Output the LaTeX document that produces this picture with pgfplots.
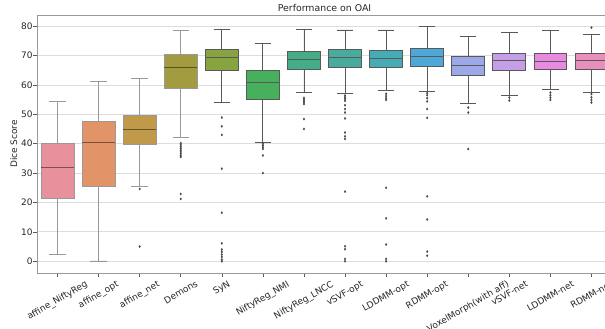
\documentclass[border=0pt]{standalone}
\usepackage{fontspec}
\setmainfont{DejaVu Sans}
\usepackage{graphicx}
\usepackage{pgfplots}
\pgfplotsset{compat=1.18}
\usepgfplotslibrary{statistics}
\definecolor{c0}{HTML}{E8919C}
\definecolor{c1}{HTML}{E29468}
\definecolor{c2}{HTML}{C09A4A}
\definecolor{c3}{HTML}{A29B40}
\definecolor{c4}{HTML}{88A440}
\definecolor{c5}{HTML}{46B05C}
\definecolor{c6}{HTML}{44AD88}
\definecolor{c7}{HTML}{48AB9E}
\definecolor{c8}{HTML}{45ABB5}
\definecolor{c9}{HTML}{4EA9D8}
\definecolor{c10}{HTML}{9CA8E8}
\definecolor{c11}{HTML}{C49FE6}
\definecolor{c12}{HTML}{E88AE0}
\definecolor{c13}{HTML}{E88FBB}
\definecolor{lgt}{HTML}{999999}
\definecolor{drk}{HTML}{595959}
\definecolor{gridc}{HTML}{DDDDDD}
\definecolor{txt}{HTML}{262626}
\pgfplotsset{
  lightbox/.style={draw=lgt, line width=0.9pt, boxplot/every median/.style={draw=black, draw opacity=0.45}},
  darkbox/.style={draw=drk, line width=0.9pt},
}
\begin{document}
\begin{tikzpicture}
\clip (-37bp,-56bp) rectangle (568bp,273bp);
\begin{axis}[
  at={(0,0)}, anchor=south west,
  width=575bp, height=258bp, scale only axis,
  xmin=-0.5, xmax=13.5, ymin=-4, ymax=83.8,
  xtick={0,...,13},
  xticklabels={\rotatebox{30}{affine\_NiftyReg},\rotatebox{30}{affine\_opt},\rotatebox{30}{affine\_net},\rotatebox{30}{Demons},\rotatebox{30}{SyN},\rotatebox{30}{NiftyReg\_NMI},\rotatebox{30}{NiftyReg\_LNCC},\rotatebox{30}{vSVF-opt},\rotatebox{30}{LDDMM-opt},\rotatebox{30}{RDMM-opt},\rotatebox{30}{VoxelMorph(with aff)},\rotatebox{30}{vSVF-net},\rotatebox{30}{LDDMM-net},\rotatebox{30}{RDMM-net}},
  xticklabel style={anchor=north, yshift=0bp, font=\fontsize{9}{10}\selectfont, text=txt},
  ytick={0,10,...,80},
  yticklabel style={font=\fontsize{9}{10}\selectfont, text=txt, xshift=2.5bp},
  /pgf/number format/assume math mode=true,
  tick align=outside, tick pos=left,
  major tick length=3.5bp,
  tick style={color=drk, line width=0.6pt},
  ymajorgrids, grid style={color=gridc, line width=0.8pt},
  axis line style={color=gray!80, line width=0.8pt},
  title={Performance on OAI},
  title style={font=\fontsize{9.4}{10}\selectfont, text=txt, yshift=-6bp},
  ylabel={Dice Score},
  ylabel style={font=\fontsize{9}{10}\selectfont, text=txt, yshift=-3bp},
  boxplot/draw direction=y,
  boxplot/box extend=0.8,
  boxplot/whisker extend=0.4,
]
\addplot[boxplot prepared={draw position=0, lower whisker=2.3, lower quartile=21.4, median=31.8, upper quartile=40.0, upper whisker=54.5}, fill=c0, lightbox] coordinates {};
\addplot[boxplot prepared={draw position=1, lower whisker=0.1, lower quartile=25.6, median=40.4, upper quartile=47.7, upper whisker=61.3}, fill=c1, lightbox] coordinates {};
\addplot[boxplot prepared={draw position=2, lower whisker=25.5, lower quartile=39.9, median=44.8, upper quartile=49.5, upper whisker=62.2}, fill=c2, lightbox] coordinates {};
\addplot[boxplot prepared={draw position=3, lower whisker=42.2, lower quartile=58.8, median=66.0, upper quartile=70.3, upper whisker=78.6}, fill=c3, lightbox] coordinates {};
\addplot[boxplot prepared={draw position=4, lower whisker=54.1, lower quartile=65.0, median=69.4, upper quartile=72.1, upper whisker=79.0}, fill=c4, darkbox] coordinates {};
\addplot[boxplot prepared={draw position=5, lower whisker=40.5, lower quartile=55.2, median=60.9, upper quartile=64.9, upper whisker=74.1}, fill=c5, darkbox] coordinates {};
\addplot[boxplot prepared={draw position=6, lower whisker=57.5, lower quartile=65.3, median=68.7, upper quartile=71.3, upper whisker=79.0}, fill=c6, darkbox] coordinates {};
\addplot[boxplot prepared={draw position=7, lower whisker=57.2, lower quartile=65.9, median=69.2, upper quartile=72.1, upper whisker=78.7}, fill=c7, darkbox] coordinates {};
\addplot[boxplot prepared={draw position=8, lower whisker=58.2, lower quartile=65.9, median=69.1, upper quartile=71.8, upper whisker=78.7}, fill=c8, darkbox] coordinates {};
\addplot[boxplot prepared={draw position=9, lower whisker=57.9, lower quartile=66.4, median=69.6, upper quartile=72.3, upper whisker=79.8}, fill=c9, darkbox] coordinates {};
\addplot[boxplot prepared={draw position=10, lower whisker=53.8, lower quartile=63.1, median=66.7, upper quartile=69.6, upper whisker=76.6}, fill=c10, darkbox] coordinates {};
\addplot[boxplot prepared={draw position=11, lower whisker=56.4, lower quartile=65.0, median=68.4, upper quartile=70.8, upper whisker=77.9}, fill=c11, darkbox] coordinates {};
\addplot[boxplot prepared={draw position=12, lower whisker=58.4, lower quartile=65.3, median=68.1, upper quartile=70.8, upper whisker=78.6}, fill=c12, darkbox] coordinates {};
\addplot[boxplot prepared={draw position=13, lower whisker=57.5, lower quartile=65.3, median=68.4, upper quartile=70.8, upper whisker=77.1}, fill=c13, darkbox] coordinates {};
% outliers
\addplot[only marks, mark=diamond*, mark size=1.2pt, mark options={fill=drk!80!black, draw=drk!80!black, line width=0.2pt}] table {
x y
2 24.6
2 5.0
3 40.2
3 39.6
3 39.0
3 38.4
3 37.8
3 37.2
3 36.6
3 36.0
3 35.5
3 22.9
3 21.2
4 48.9
4 45.9
4 43.0
4 31.5
4 16.5
4 6.1
4 4.0
4 3.2
4 2.3
4 1.5
4 0.6
4 0.0
5 40.0
5 39.4
5 38.8
5 38.2
5 36.0
5 30.0
6 55.6
6 55.1
6 54.6
6 54.1
6 53.5
6 48.4
6 45.0
7 56.4
7 55.8
7 55.2
7 54.6
7 53.1
7 51.8
7 50.6
7 48.6
7 43.8
7 42.5
7 41.6
7 23.7
7 5.1
7 4.1
7 0.8
7 0.0
8 57.0
8 56.2
8 55.5
8 54.9
8 25.0
8 14.6
8 5.7
8 0.8
8 0.0
9 57.2
9 56.5
9 55.5
9 54.4
9 51.8
9 48.8
9 22.1
9 14.2
9 3.3
9 1.9
10 52.3
10 50.6
10 38.2
11 55.7
11 54.7
12 57.4
12 56.5
12 55.7
12 54.9
13 79.5
13 56.9
13 55.8
13 54.9
13 54.0
};
\end{axis}
\end{tikzpicture}
\end{document}
